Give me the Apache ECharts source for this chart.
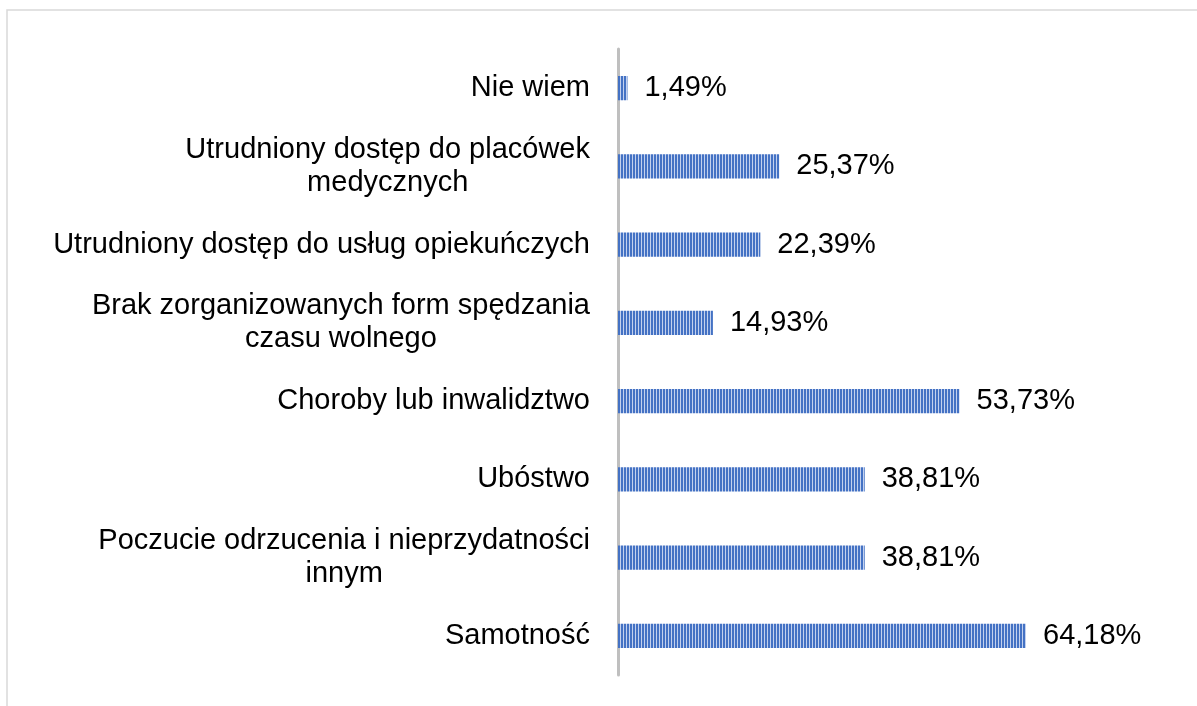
<!DOCTYPE html>
<html>
<head>
<meta charset="utf-8">
<script src="https://cdn.jsdelivr.net/npm/echarts@6/dist/echarts.min.js"></script>
<style>
  html, body { margin: 0; padding: 0; background: #fff; }
  #chart { width: 1197px; height: 706px; }
</style>
</head>
<body>
<div id="chart"></div>
<script>
const kategorie = [
  'Nie wiem',
  'Utrudniony dostęp do placówek\nmedycznych',
  'Utrudniony dostęp do usług opiekuńczych',
  'Brak zorganizowanych form spędzania\nczasu wolnego',
  'Choroby lub inwalidztwo',
  'Ubóstwo',
  'Poczucie odrzucenia i nieprzydatności\ninnym',
  'Samotność'
];
const wartosci = [1.49, 25.37, 22.39, 14.93, 53.73, 38.81, 38.81, 64.18];

// stripe pattern for the bars
const kanwa = document.createElement('canvas');
kanwa.width = 3;
kanwa.height = 4;
const ctx = kanwa.getContext('2d');
ctx.fillStyle = '#4472c4';
ctx.fillRect(0, 0, 3, 4);
ctx.fillStyle = '#c3d1ee';
ctx.fillRect(2, 0, 1, 4);

const wykres = echarts.init(document.getElementById('chart'));

wykres.setOption({
  animation: false,
  graphic: [{
    type: 'rect',
    shape: { x: 7, y: 10, width: 1300, height: 800 },
    style: { fill: 'none', stroke: '#d9d9d9', lineWidth: 1.5 },
    silent: true
  }],
  grid: { left: 618, right: 134, top: 49, bottom: 31 },
  xAxis: {
    type: 'value',
    min: 0,
    max: 70,
    show: false
  },
  yAxis: {
    type: 'category',
    inverse: true,
    data: kategorie,
    axisLine: { show: true, lineStyle: { color: '#bfbfbf', width: 3 } },
    axisTick: { show: false },
    axisLabel: {
      margin: 28,
      fontSize: 29,
      color: '#000',
      fontFamily: 'Liberation Sans, Arial',
      formatter: function (v) {
        return v.split('\n').map(s => '{c|' + s + '}').join('\n');
      },
      rich: {
        c: {
          align: 'center',
          fontSize: 29,
          lineHeight: 33,
          color: '#000',
          fontFamily: 'Liberation Sans, Arial'
        }
      }
    }
  },
  series: [{
    type: 'bar',
    data: wartosci,
    barCategoryGap: '69%',
    itemStyle: { color: { image: kanwa, repeat: 'repeat' } },
    label: {
      show: true,
      position: 'right',
      distance: 17,
      fontSize: 29,
      color: '#000',
      fontFamily: 'Liberation Sans, Arial',
      formatter: p => p.value.toFixed(2).replace('.', ',') + '%'
    }
  }]
});
</script>
</body>
</html>
